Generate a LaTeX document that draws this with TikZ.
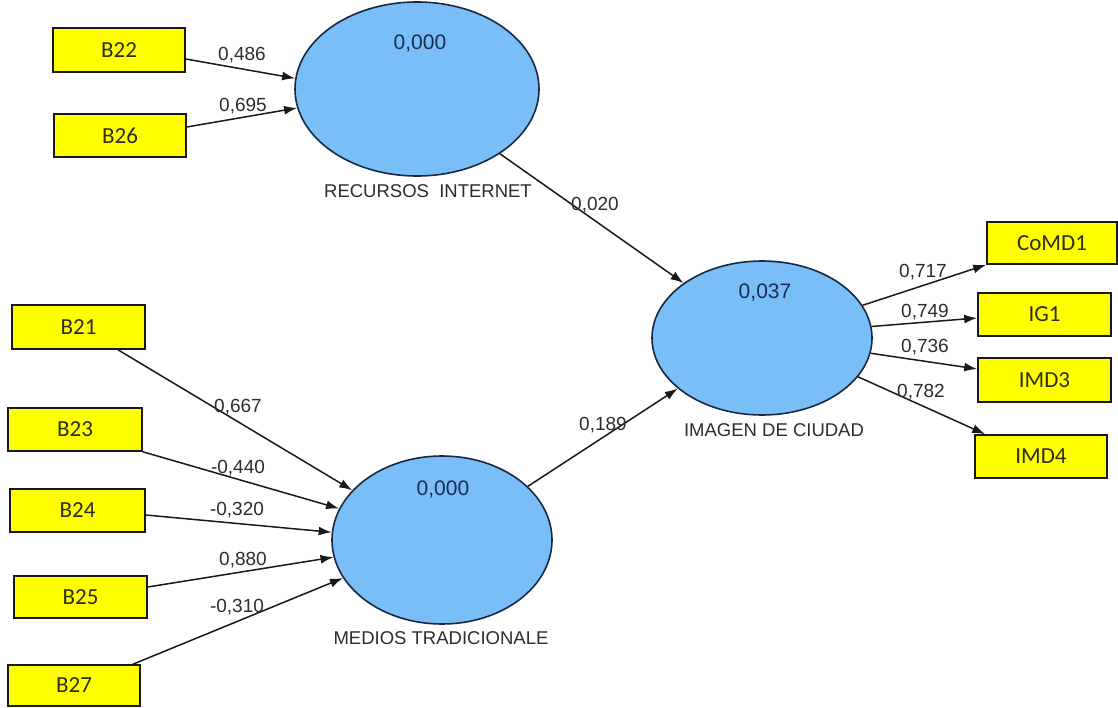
\documentclass[tikz,border=0pt]{standalone}
\usepackage{fontspec}
\setmainfont{Liberation Sans}
\newfontfamily\boxfont{Carlito}
\usetikzlibrary{shapes.geometric,arrows.meta}
\definecolor{ellfill}{RGB}{122,190,248}
\definecolor{ellline}{RGB}{25,40,65}
\definecolor{boxfill}{RGB}{255,255,0}
\definecolor{valcol}{RGB}{25,45,80}
\definecolor{txtcol}{RGB}{45,45,45}
\definecolor{boxtxt}{RGB}{45,45,20}
\begin{document}
\begin{tikzpicture}[x=1pt,y=-1pt,
  ind/.style={rectangle, draw=black!90, line width=1.6pt, fill=boxfill, inner sep=0pt,
    minimum width=133pt, minimum height=43pt,
    font=\boxfont\fontsize{23}{26}\selectfont, text=boxtxt},
  lat/.style={ellipse, draw=ellline, line width=1.6pt, fill=ellfill, inner sep=0pt},
  arr/.style={-{Latex[length=13pt,width=9pt]}, line width=1.5pt, draw=black!90},
  coef/.style={font=\fontsize{19}{21}\selectfont, text=txtcol, inner sep=0pt},
  val/.style={font=\fontsize{21}{23}\selectfont, text=valcol, inner sep=0pt},
  lname/.style={font=\fontsize{18.5}{20}\selectfont, text=txtcol, inner sep=0pt}]
\useasboundingbox[fill=white] (0,0) rectangle (1118,708);

% latent variables
\node[lat, minimum width=244pt, minimum height=174pt] (RI) at (417,89) {};
\node[lat, minimum width=220pt, minimum height=168pt] (MT) at (442,540) {};
\node[lat, minimum width=220pt, minimum height=154pt] (IM) at (762,338) {};

\node[val] (vRI) at (420,44) {0,000};
\node[val] (vMT) at (443,490) {0,000};
\node[val] (vIM) at (765,293) {0,037};

\node[lname] (nRI) at (428,191) {RECURSOS\ \ INTERNET};
\node[lname] (nMT) at (441,638) {MEDIOS TRADICIONALE};
\node[lname] (nIM) at (774,430) {IMAGEN DE CIUDAD};

% indicators
\node[ind, minimum width=132pt, minimum height=44pt] (B22) at (119,50) {B22};
\node[ind, minimum width=132pt] (B26) at (120,135.5) {B26};
\node[ind, minimum height=44pt] (B21) at (78.5,327) {B21};
\node[ind, minimum width=134pt] (B23) at (75,429.5) {B23};
\node[ind, minimum width=135pt] (B24) at (77.5,510.5) {B24};
\node[ind, minimum height=42pt] (B25) at (80.5,597) {B25};
\node[ind, minimum width=132pt, minimum height=41pt] (B27) at (74,685.5) {B27};
\node[ind, minimum width=130pt, minimum height=42pt] (CoMD1) at (1052,243) {CoMD1};
\node[ind] (IG1) at (1044.5,314.5) {IG1};
\node[ind, minimum height=44pt] (IMD3) at (1044.5,380) {IMD3};
\node[ind, minimum width=132pt] (IMD4) at (1041,456.5) {IMD4};

% connectors
\draw[arr] ([yshift=-9pt]B22.east) -- (RI.175);
\draw[arr] ([yshift=8.5pt]B26.east) -- (RI.189);
\draw[arr] (RI.322) -- (IM.145);
\draw[arr] ([xshift=39.5pt]B21.south) -- (MT.151);
\draw[arr] (B23.south east) -- (MT.163);
\draw[arr] ([yshift=-4.5pt]B24.east) -- (MT.176);
\draw[arr] ([yshift=10pt]B25.east) -- (MT.189);
\draw[arr] ([xshift=59pt]B27.north) -- (MT.201);
\draw[arr] (MT.32) -- (IM.211);
\draw[arr] (IM.18) -- (CoMD1.south west);
\draw[arr] (IM.6) -- ([yshift=-3.5pt]IG1.west);
\draw[arr] (IM.352) -- ([yshift=11pt]IMD3.west);
\draw[arr] (IM.338) -- ([xshift=11pt]IMD4.north west);

% coefficients
\node[coef] (c1) at (242,55) {0,486};
\node[coef] (c2) at (243,106) {0,695};
\node[coef] (c3) at (595,205) {0,020};
\node[coef] (c4) at (238,407) {0,667};
\node[coef] (c5) at (238,468) {-0,440};
\node[coef] (c6) at (237,510) {-0,320};
\node[coef] (c7) at (243,560) {0,880};
\node[coef] (c8) at (237,607) {-0,310};
\node[coef] (c9) at (603,425) {0,189};
\node[coef] (c10) at (923,272) {0,717};
\node[coef] (c11) at (925,312) {0,749};
\node[coef] (c12) at (925,347) {0,736};
\node[coef] (c13) at (921,392) {0,782};
\end{tikzpicture}
\end{document}
